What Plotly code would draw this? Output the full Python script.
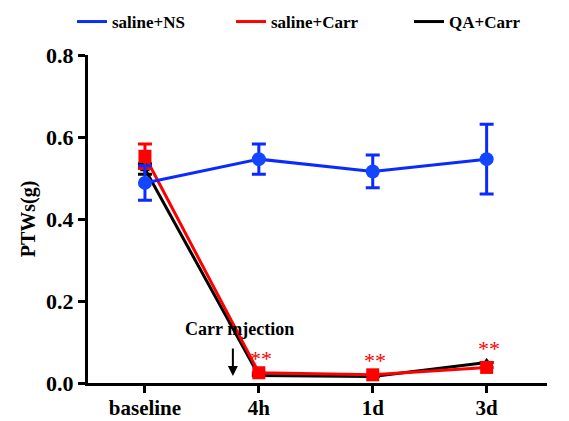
import plotly.graph_objects as go

categories = ["baseline", "4h", "1d", "3d"]
series_names = ["saline+NS", "saline+Carr", "QA+Carr"]
saline_ns = [0.488, 0.546, 0.516, 0.546]
saline_ns_err = [0.042, 0.037, 0.040, 0.085]
saline_carr = [0.553, 0.025, 0.020, 0.038]
saline_carr_err = [0.030, 0.0, 0.0, 0.0]
qa_carr = [0.522, 0.018, 0.016, 0.050]
qa_carr_err = [0.013, 0.0, 0.0, 0.0]
star_labels = ["", "**", "**", "**"]
y_ticks = [0.0, 0.2, 0.4, 0.6, 0.8]

colors = {"saline+NS": "#0a2bff", "saline+Carr": "#ff0000", "QA+Carr": "#000000"}
xs = list(range(len(categories)))
FONT = "Liberation Serif"

# page body adds an 8px margin; compensate
W, H = 561, 413

fig = go.Figure()

# QA+Carr (bottom)
fig.add_trace(go.Scatter(
    x=xs, y=qa_carr, mode="lines+markers",
    line=dict(color=colors["QA+Carr"], width=3),
    marker=dict(symbol="triangle-up", size=9, color=colors["QA+Carr"]),
    error_y=dict(type="data", array=qa_carr_err, color=colors["QA+Carr"], thickness=3, width=7),
    showlegend=False))
# saline+Carr
fig.add_trace(go.Scatter(
    x=xs, y=saline_carr, mode="lines+markers",
    line=dict(color=colors["saline+Carr"], width=3),
    marker=dict(symbol="square", size=13, color=colors["saline+Carr"]),
    error_y=dict(type="data", array=saline_carr_err, color=colors["saline+Carr"], thickness=3, width=7),
    showlegend=False))
# saline+NS (top)
fig.add_trace(go.Scatter(
    x=xs, y=saline_ns, mode="lines+markers",
    line=dict(color=colors["saline+NS"], width=3),
    marker=dict(symbol="circle", size=14, color="#1446ff"),
    error_y=dict(type="data", array=saline_ns_err, color=colors["saline+NS"], thickness=3, width=7),
    showlegend=False))

# legend entries (line only), each in its own legend for exact placement
legend_ids = ["legend", "legend2", "legend3"]
legend_x_px = [64, 223, 401]
for name, lid in zip(series_names, legend_ids):
    fig.add_trace(go.Scatter(
        x=[None], y=[None], mode="lines", name=name, legend=lid,
        line=dict(color=colors[name], width=3)))

leg_common = dict(orientation="h", xref="container", yref="container",
                  xanchor="left", yanchor="middle", y=1 - 14 / H,
                  font=dict(family=FONT, size=17, color="black", weight="bold"),
                  itemwidth=30, bgcolor="rgba(0,0,0,0)")
legends = {lid: dict(leg_common, x=px / W) for lid, px in zip(legend_ids, legend_x_px)}

# significance stars
for i, lab in enumerate(star_labels):
    if lab:
        top = max(saline_carr[i], qa_carr[i])
        fig.add_annotation(x=xs[i] + 0.02, y=top, text=lab, showarrow=False,
                           yanchor="bottom", yshift=0,
                           font=dict(family=FONT, size=22, color="#ff0000"))

# Carr injection
fig.add_annotation(x=0.833, y=0.132, text="<b>Carr injection</b>", showarrow=False,
                   font=dict(family=FONT, size=18, color="black"))
fig.add_annotation(x=0.772, y=0.017, ax=0.772, ay=0.088, xref="x", yref="y",
                   axref="x", ayref="y", showarrow=True, arrowhead=2,
                   arrowwidth=2, arrowsize=1, arrowcolor="black", text="")

fig.update_layout(
    width=W, height=H,
    margin=dict(l=80, r=22, t=47, b=38, autoexpand=False),
    plot_bgcolor="white", paper_bgcolor="white",
    font=dict(family=FONT, size=15, color="black"),
    xaxis=dict(range=[-0.5, 3.53], tickvals=xs, ticktext=["<b>%s</b>" % c for c in categories],
               showline=True, linecolor="black", linewidth=3, ticks="outside",
               ticklen=7, tickwidth=3, tickcolor="black", showgrid=False, zeroline=False,
               ticklabelstandoff=-3,
               tickfont=dict(family=FONT, size=21)),
    yaxis=dict(range=[0, 0.8], tickvals=y_ticks, ticktext=["<b>%.1f</b>" % v for v in y_ticks],
               showline=True, linecolor="black", linewidth=3, ticks="outside",
               ticklen=7, tickwidth=3, tickcolor="black", showgrid=False, zeroline=False,
               tickfont=dict(family=FONT, size=22),
               title=dict(text="<b>PTWs(g)</b>", font=dict(family=FONT, size=20), standoff=6)),
    **legends,
)

fig.write_html("out.html")
